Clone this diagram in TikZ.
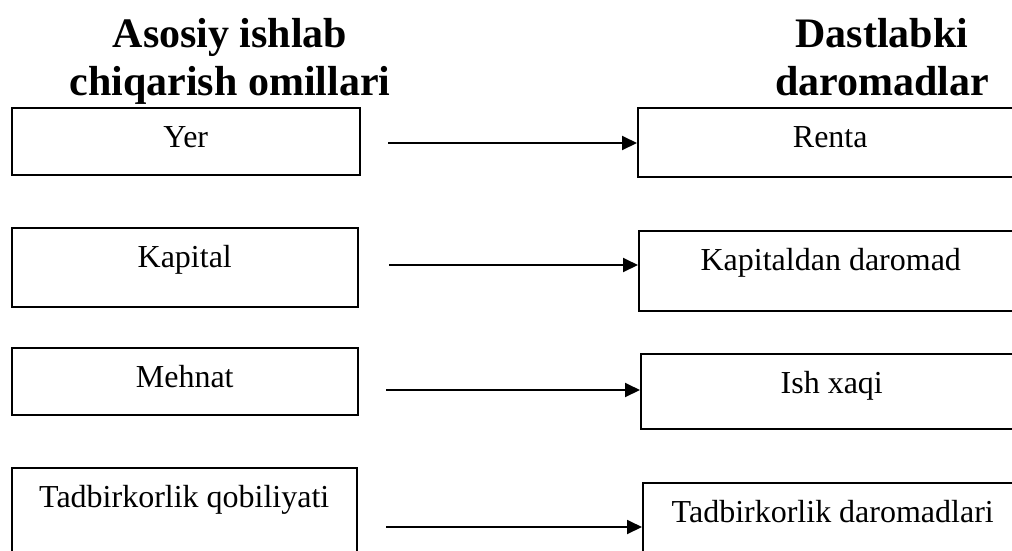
\documentclass[tikz,border=0pt]{standalone}
\usepackage{fontspec}
\setmainfont{Liberation Serif}
\usetikzlibrary{arrows.meta}
\begin{document}
\begin{tikzpicture}[x=1pt,y=-1pt,
  box/.style={draw, line width=1.5pt, inner sep=0pt, anchor=north west,
    text height=40pt, font=\fontsize{32}{36}\selectfont},
  title/.style={align=center, font=\fontsize{42}{48}\selectfont\bfseries, inner sep=0pt, anchor=base},
  arr/.style={line width=1.9pt, -{Triangle[length=15pt,width=14pt]}}]
\useasboundingbox (0,0) rectangle (1012,550);
\clip (0,0) rectangle (1012,550);
\node[title] (t1) at (230,95) {Asosiy ishlab\\chiqarish omillari};
\node[title] (t2) at (882,95) {Dastlabki\\daromadlar};
\node[box, minimum width=348pt, text depth=27pt] (l1) at (11,107) {Yer};
\node[box, minimum width=346pt, text depth=39pt] (l2) at (11,227) {Kapital};
\node[box, minimum width=346pt, text depth=27pt] (l3) at (11,347) {Mehnat};
\node[box, minimum width=345pt, text depth=60pt] (l4) at (11,467) {Tadbirkorlik qobiliyati};
\node[box, minimum width=385pt, text depth=29pt] (r1) at (637,107) {Renta};
\node[box, minimum width=384pt, text depth=40pt] (r2) at (638,230) {Kapitaldan daromad};
\node[box, minimum width=382pt, text depth=35pt] (r3) at (640,353) {Ish xaqi};
\node[box, minimum width=380pt, text depth=60pt] (r4) at (642,482) {Tadbirkorlik daromadlari};
\coordinate (s1) at (388,143);
\coordinate (s2) at (389,265);
\coordinate (s3) at (386,390);
\coordinate (s4) at (386,527);
\draw[arr] (s1) -- (s1 -| r1.west);
\draw[arr] (s2) -- (s2 -| r2.west);
\draw[arr] (s3) -- (s3 -| r3.west);
\draw[arr] (s4) -- (s4 -| r4.west);
\end{tikzpicture}
\end{document}
